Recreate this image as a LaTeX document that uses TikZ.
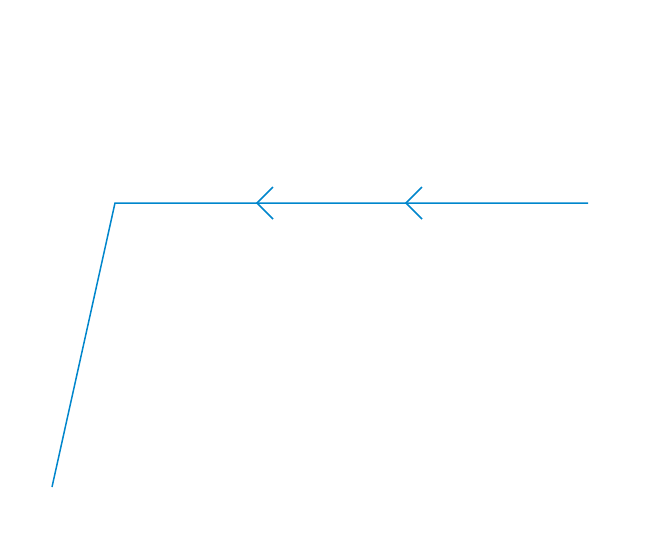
\documentclass[tikz,border=0pt]{standalone}
\definecolor{ln}{RGB}{0,134,204}
\begin{document}
\begin{tikzpicture}[x=1pt,y=-1pt,wire/.style={draw=ln,line width=1.5pt}]
\useasboundingbox (0,0) rectangle (660,550);
\coordinate (a) at (588,203);
\coordinate (b) at (115,203);
\coordinate (c) at (52,487);
\coordinate (t1) at (257,203);
\coordinate (t2) at (406,203);
\draw[wire] (a) -- (b) -- (c);
\draw[wire] ([shift={(16,-16)}]t1) -- (t1) -- ([shift={(16,16)}]t1);
\draw[wire] ([shift={(16,-16)}]t2) -- (t2) -- ([shift={(16,16)}]t2);
\end{tikzpicture}
\end{document}
